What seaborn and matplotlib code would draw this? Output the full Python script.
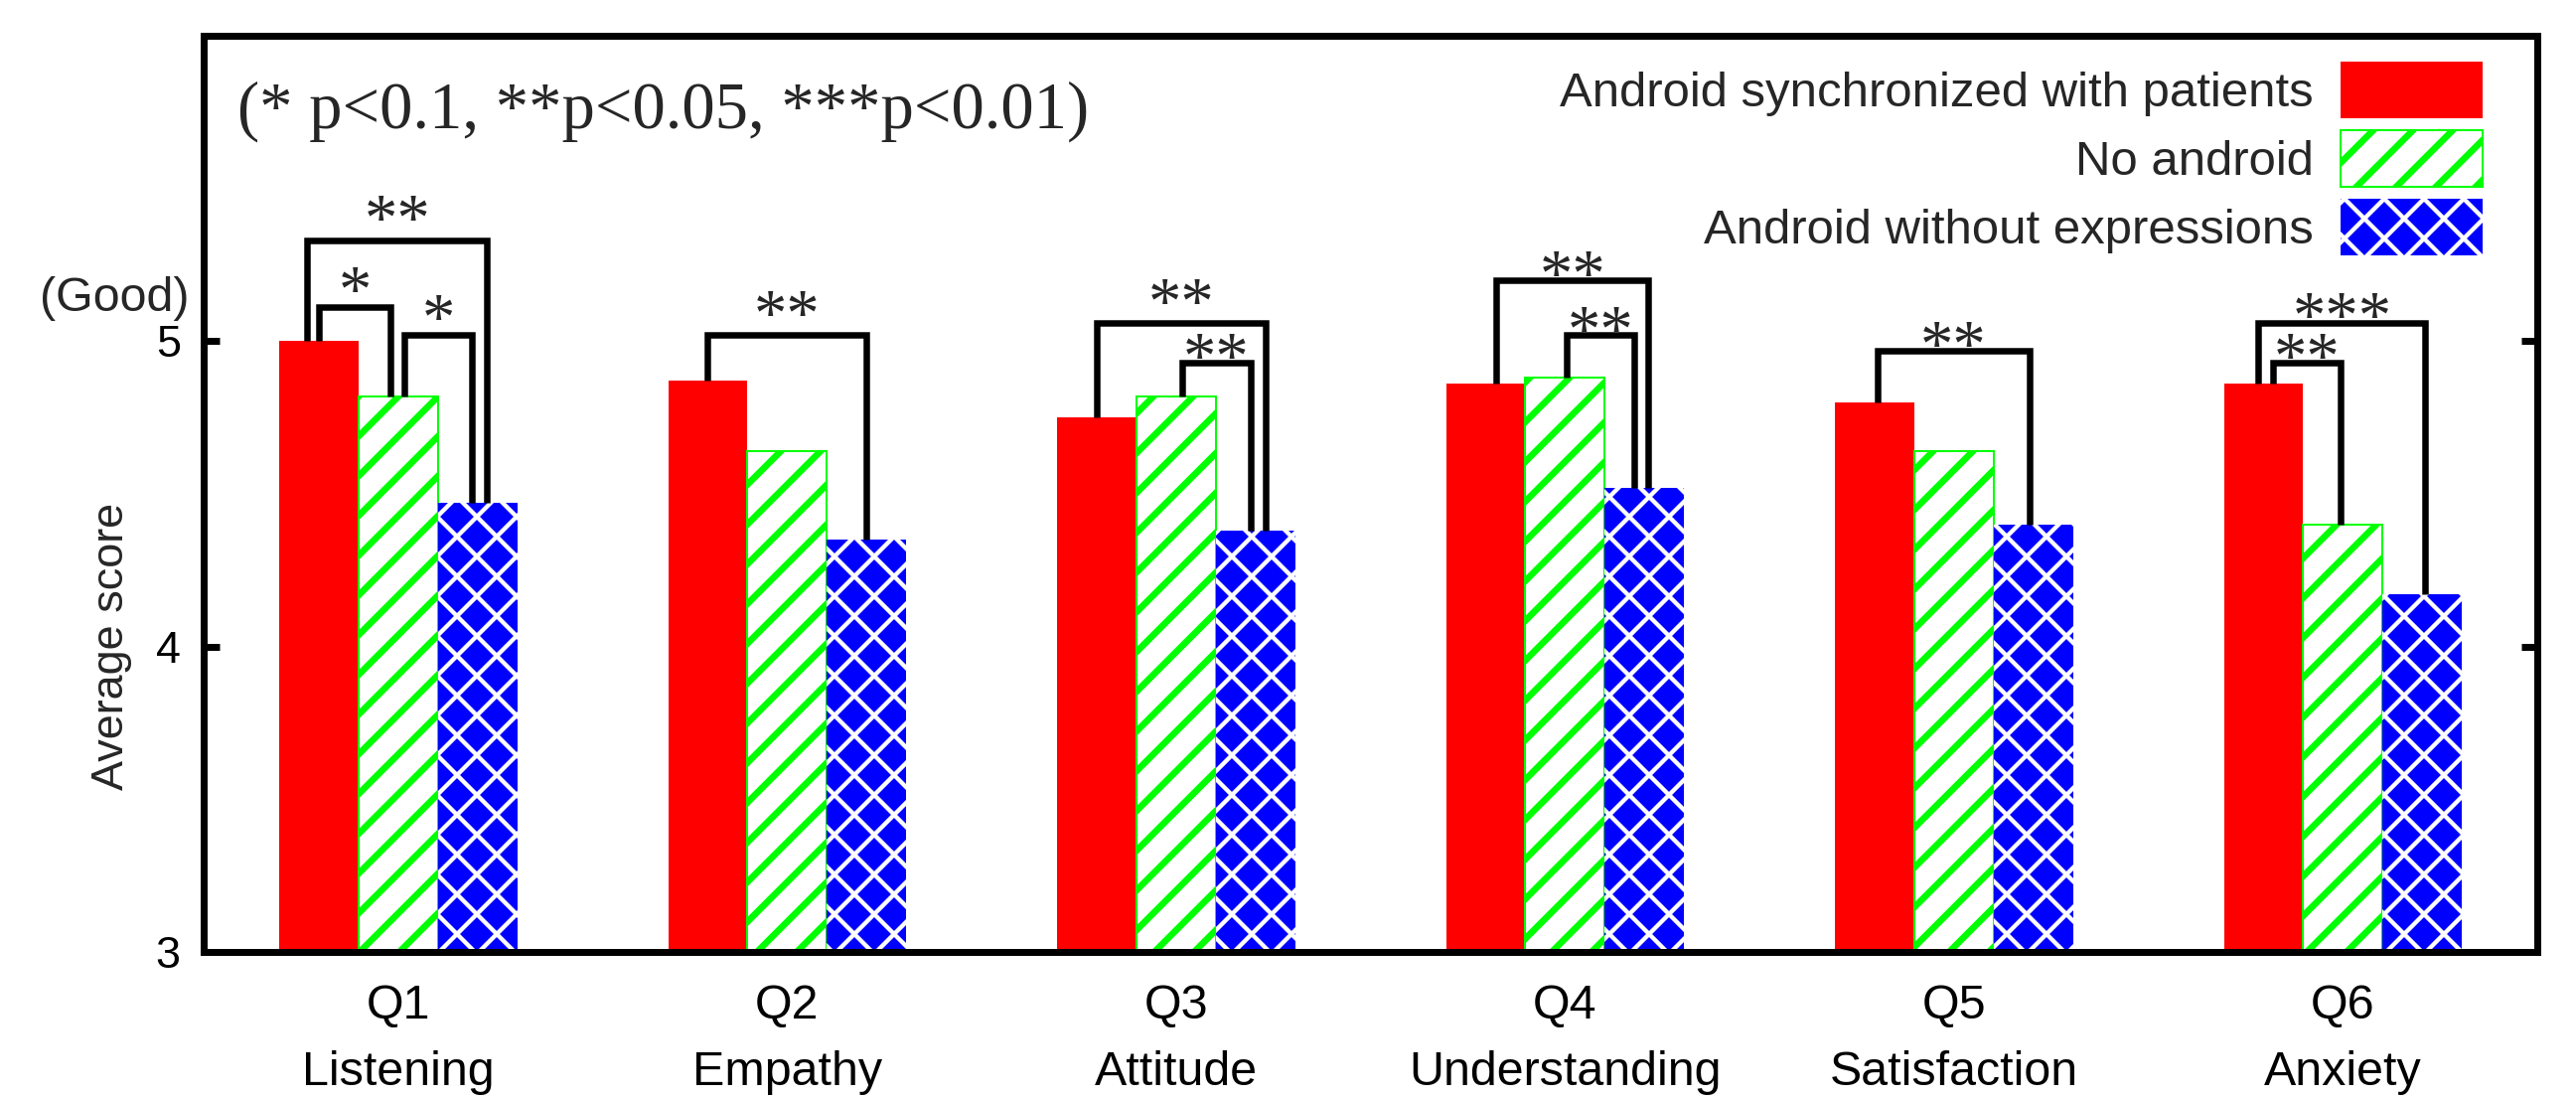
import numpy as np
import pandas as pd
import matplotlib
matplotlib.use("Agg")
import matplotlib.pyplot as plt
from matplotlib.patches import Patch
import seaborn as sns

# ---------------- data ----------------
questions = ["Q1\nListening", "Q2\nEmpathy", "Q3\nAttitude",
             "Q4\nUnderstanding", "Q5\nSatisfaction", "Q6\nAnxiety"]
conditions = ["Android synchronized with patients", "No android",
              "Android without expressions"]
synced = [5.00, 4.87, 4.75, 4.86, 4.80, 4.86]
no_android = [4.82, 4.64, 4.82, 4.88, 4.64, 4.40]
no_expression = [4.47, 4.35, 4.38, 4.52, 4.40, 4.17]
ytick_values = [3, 4, 5]
note_text = "(* p<0.1, **p<0.05, ***p<0.01)"

# significance brackets: (question index, left bar, right bar, bracket height, label)
br_question = [0, 0, 0, 1, 2, 2, 3, 3, 4, 5, 5]
br_left = [0, 0, 1, 0, 0, 1, 0, 1, 0, 0, 0]
br_right = [2, 1, 2, 2, 2, 2, 2, 2, 2, 2, 1]
br_height = [5.33, 5.11, 5.02, 5.02, 5.06, 4.93, 5.20, 5.02, 4.97, 5.06, 4.93]
br_label = ["**", "*", "*", "**", "**", "**", "**", "**", "**", "***", "**"]
# small leg shifts (so nested brackets do not overlap) and label gaps
br_dl = [-0.030, 0.000, 0.015, 0.0, 0.000, 0.015, 0.028, 0.005, 0.008, -0.013, 0.025]
br_dr = [0.024, -0.020, -0.014, 0.0, 0.025, -0.013, 0.010, -0.025, -0.010, 0.008, -0.005]
br_gap = [0.104, 0.088, 0.088, 0.10, 0.098, 0.052, 0.052, 0.05, 0.05, 0.055, 0.05]

RED, GREEN, BLUE = "#ff0000", "#00ff00", "#0000ff"
colors = [RED, GREEN, BLUE]

# ---------------- style ----------------
sns.set_style("white")
plt.rcParams["font.family"] = ["Liberation Sans", "DejaVu Sans"]
plt.rcParams["hatch.linewidth"] = 4.0

DPI = 120
fig, ax = plt.subplots(figsize=(2593 / DPI, 1106 / DPI), dpi=DPI)
fig.subplots_adjust(left=0.0791, right=0.9850, top=0.9675, bottom=0.1338)

df = pd.DataFrame({
    "question": questions * 3,
    "condition": np.repeat(conditions, len(questions)),
    "score": synced + no_android + no_expression,
})

group_width = 0.612
sns.barplot(data=df, x="question", y="score", hue="condition",
            order=questions, hue_order=conditions, palette=colors,
            width=group_width, saturation=1, gap=0, errorbar=None,
            legend=False, ax=ax, zorder=2)

styles = [
    dict(facecolor=RED, edgecolor=RED, hatch=None, linewidth=0),
    dict(facecolor="white", edgecolor=GREEN, hatch="/", linewidth=1.2),
    dict(facecolor=BLUE, edgecolor="white", hatch="x", linewidth=0),
]
rgb = [np.array(matplotlib.colors.to_rgb(c)) for c in colors]
for p in ax.patches:
    fc = np.array(p.get_facecolor()[:3])
    k = int(np.argmin([np.abs(fc - c).sum() for c in rgb]))
    st = styles[k]
    p.set_facecolor(st["facecolor"])
    p.set_edgecolor(st["edgecolor"])
    p.set_hatch(st["hatch"])
    p.set_linewidth(st["linewidth"])
    if k == 2 and hasattr(p, "set_hatch_linewidth"):
        p.set_hatch_linewidth(2.6)

ax.set_xlim(-0.5, 5.5)
ax.set_ylim(3, 6)
ax.set_yticks(ytick_values)
ax.set_yticklabels([str(v) for v in ytick_values])
ax.set_xticks(range(len(questions)))
ax.set_xticklabels(questions, linespacing=1.65)
ax.set_xlabel("")
ax.tick_params(axis="y", direction="in", length=9.6, width=4.2,
               left=True, right=True, labelsize=27, pad=14, colors="black")
ax.tick_params(axis="x", length=0, labelsize=29, pad=19, colors="black")
for s in ax.spines.values():
    s.set_visible(True)
    s.set_linewidth(4.2)
    s.set_color("black")

ax.set_ylabel("Average score", fontsize=27)
ax.yaxis.set_label_coords(-0.0396, 1 / 3)
ax.yaxis.label.set_verticalalignment("center")

ax.annotate("(Good)", xy=(0, 5.14), xycoords=ax.get_yaxis_transform(),
            xytext=(-9, 0), textcoords="offset points",
            ha="right", va="center", fontsize=29)

ax.text(0.0145, 0.9176, note_text, transform=ax.transAxes,
        family=["Liberation Serif", "DejaVu Serif"], fontsize=40,
        ha="left", va="center")

# ---------------- significance brackets ----------------
series = [synced, no_android, no_expression]
bw = group_width / 3
for q, i, j, h, lab, dl, dr, g in zip(br_question, br_left, br_right, br_height,
                                      br_label, br_dl, br_dr, br_gap):
    xl = q + (i - 1) * bw + dl
    xr = q + (j - 1) * bw + dr
    yl = series[i][q]
    yr = series[j][q]
    ax.plot([xl, xl, xr, xr], [yl, h, h, yr], color="black", lw=3.9,
            solid_joinstyle="miter", solid_capstyle="butt", zorder=4)
    ax.text((xl + xr) / 2, h + g - 0.10, lab, ha="center", va="baseline",
            family=["Liberation Serif", "DejaVu Serif"], fontsize=40, zorder=5)

# ---------------- legend ----------------
handles = []
for st in styles:
    hp = Patch(facecolor=st["facecolor"], edgecolor=st["edgecolor"],
               hatch=st["hatch"], linewidth=st["linewidth"])
    handles.append(hp)
leg = ax.legend(handles, conditions, loc="upper right",
                bbox_to_anchor=(0.9766, 0.9718), bbox_transform=ax.transAxes,
                markerfirst=False, frameon=False, fontsize=29.5,
                handlelength=2.92, handleheight=1.406, handletextpad=0.54,
                labelspacing=0.244, borderpad=0, borderaxespad=0)
for hp in leg.get_patches():
    fc = np.array(hp.get_facecolor()[:3])
    if np.abs(fc - rgb[2]).sum() < 0.1 and hasattr(hp, "set_hatch_linewidth"):
        hp.set_hatch_linewidth(2.6)

fig.savefig("out.png", dpi=DPI)
